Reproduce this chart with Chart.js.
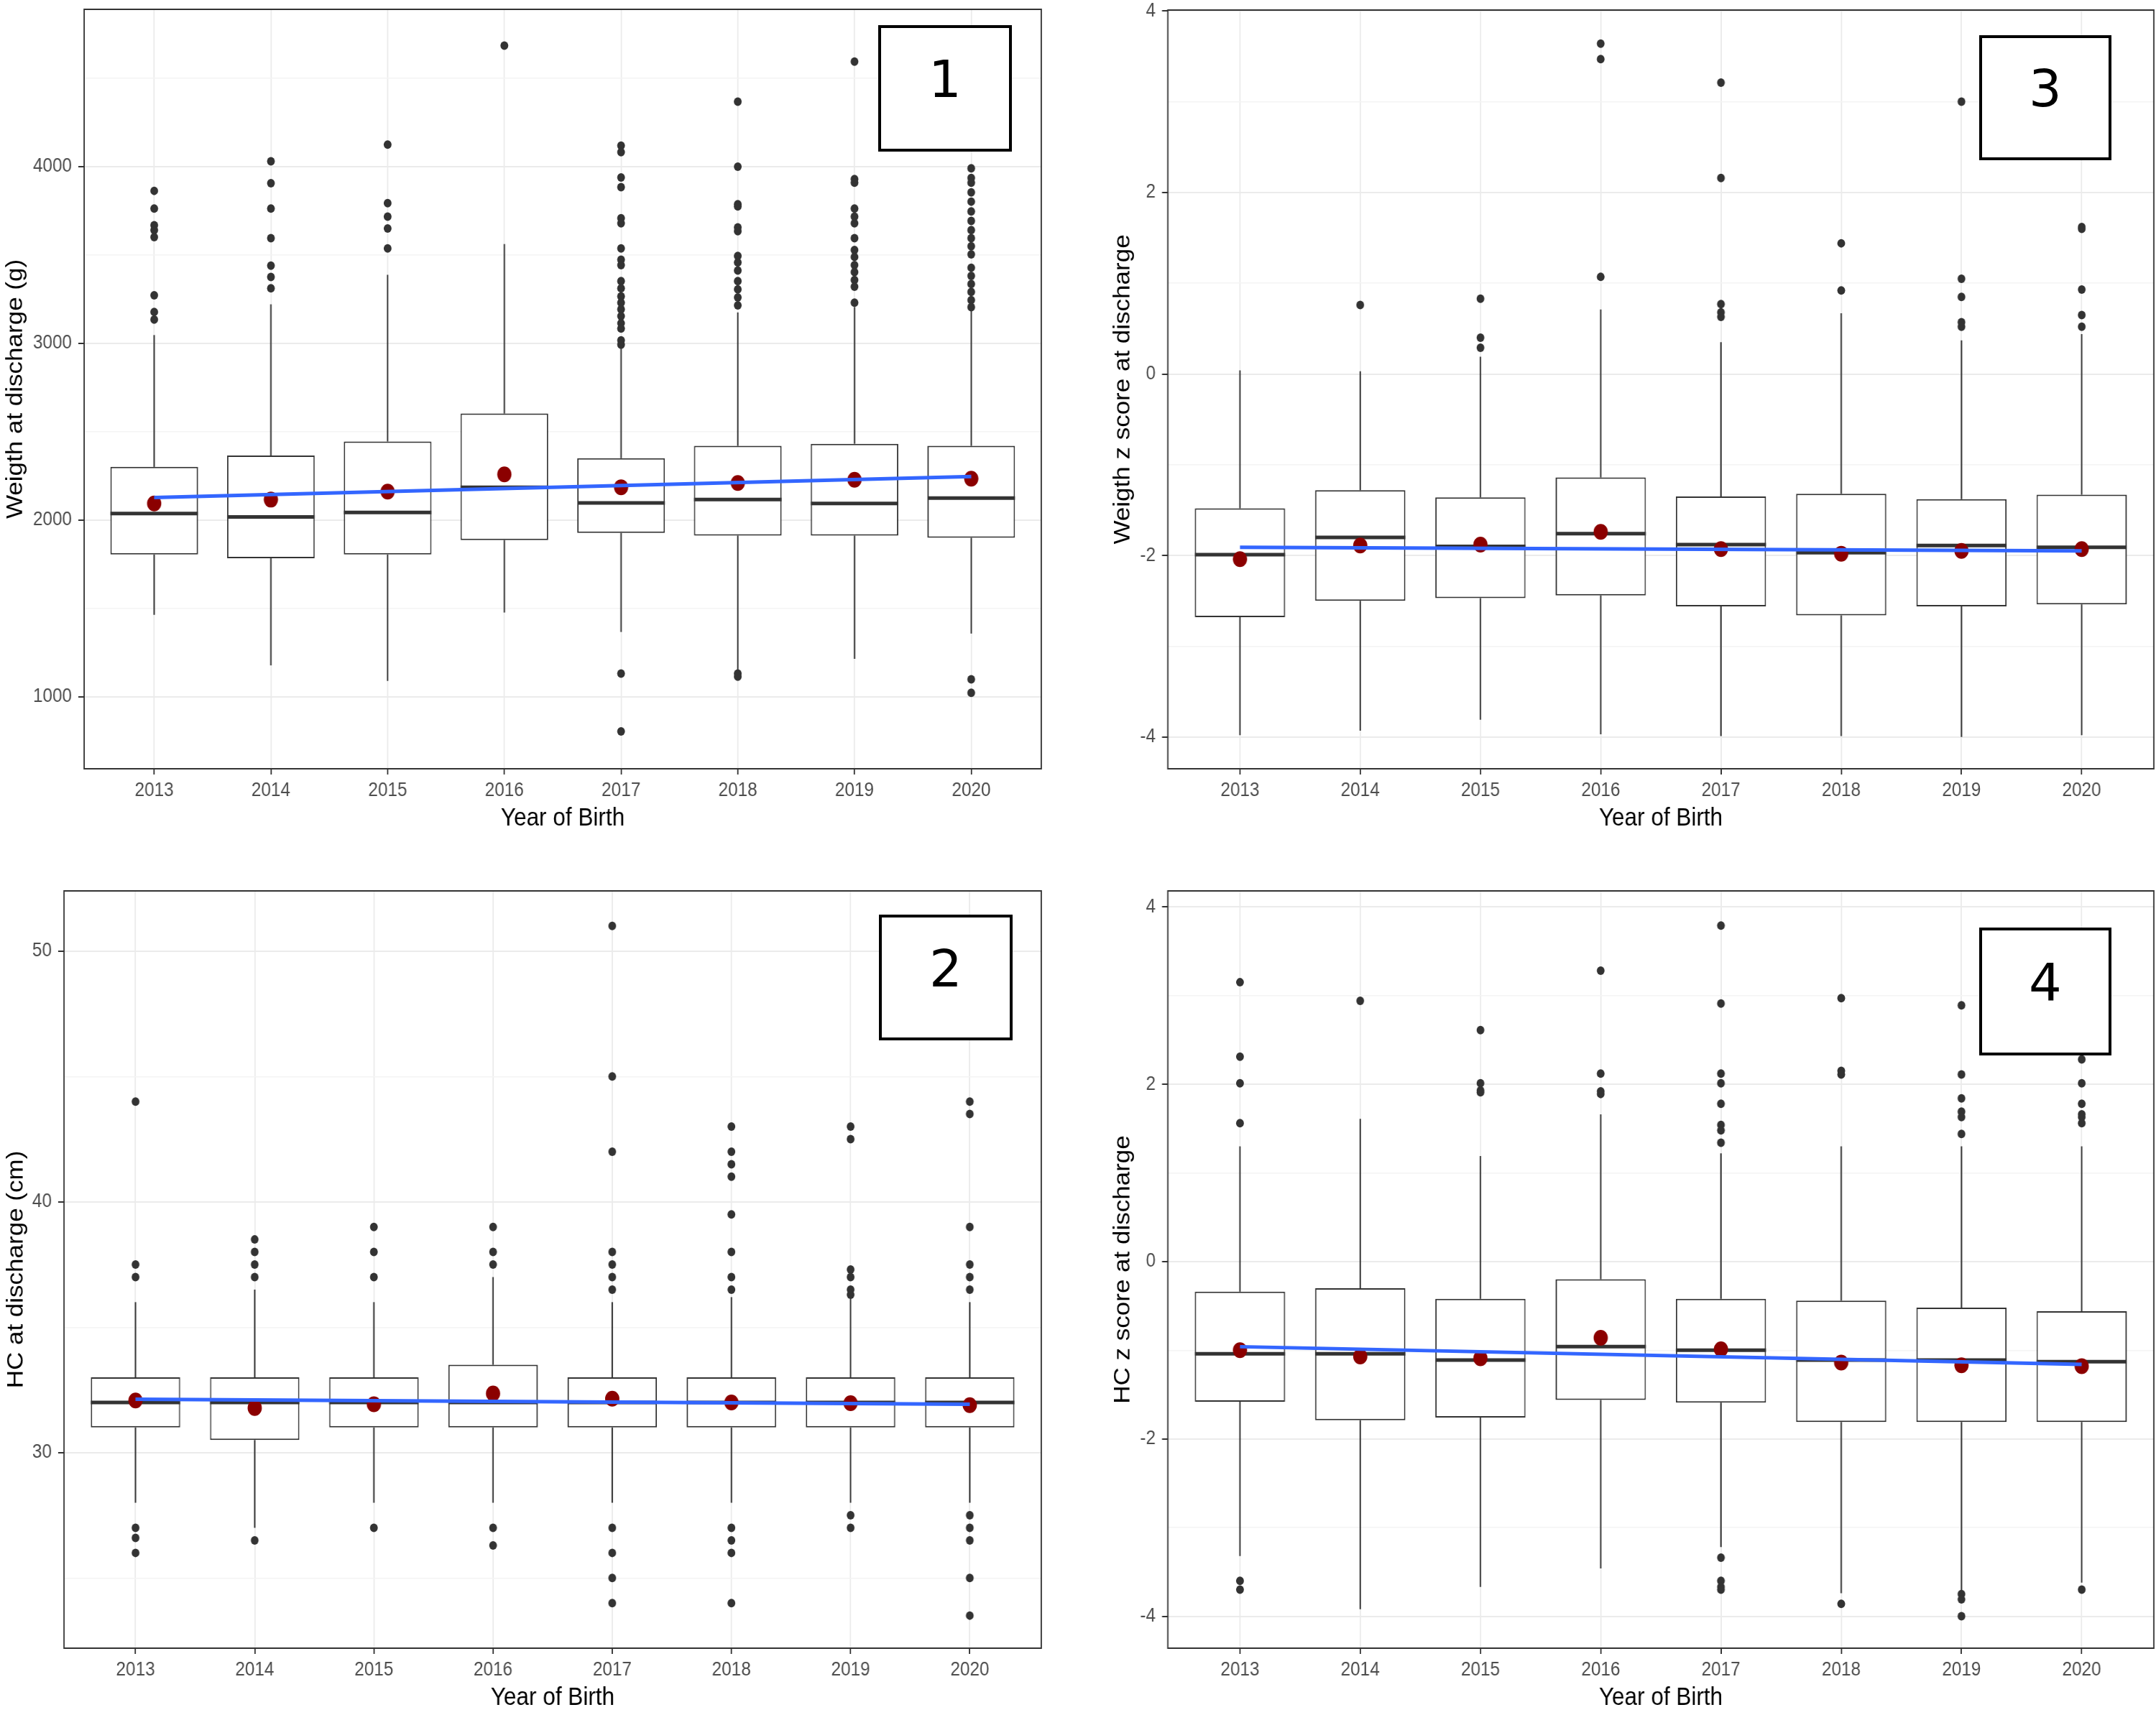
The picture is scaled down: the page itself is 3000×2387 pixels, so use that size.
<!DOCTYPE html>
<html lang="en">
<head>
<meta charset="utf-8"/>
<title>Weight and HC at discharge by year of birth</title>
<script src="https://cdn.jsdelivr.net/npm/chart.js"></script>
<style>
body{margin:0;background:#fff;width:3000px;height:2387px;overflow:hidden;position:relative}
.panel{position:absolute;transform:scaleX(.9);transform-origin:0 0}
.tag{position:absolute;box-sizing:border-box;border:4px solid #000;background:#fff;display:flex;align-items:center;justify-content:center;font-family:'DejaVu Sans',sans-serif;font-size:72px;line-height:1;padding-bottom:26px;color:#000;z-index:2}
</style>
</head>
<body>
<div class="panel" style="left:0;top:0;width:1666.7px;height:1200px"><canvas id="weightChart"></canvas></div>
<div class="panel" style="left:0;top:1200px;width:1666.7px;height:1187px"><canvas id="hcChart"></canvas></div>
<div class="panel" style="left:1540px;top:0;width:1622.2px;height:1200px"><canvas id="weightZChart"></canvas></div>
<div class="panel" style="left:1540px;top:1200px;width:1622.2px;height:1187px"><canvas id="hcZChart"></canvas></div>

<div class="tag" style="left:1222px;top:35px;width:186px;height:176px">1</div>
<div class="tag" style="left:1223px;top:1273px;width:186px;height:175px">2</div>
<div class="tag" style="left:2754px;top:49px;width:184px;height:174px">3</div>
<div class="tag" style="left:2754px;top:1291px;width:184px;height:178px">4</div>

<script>
const years=[2013,2014,2015,2016,2017,2018,2019,2020];

// 1: weight at discharge (g)
const weightLow=[1464,1178,1090,1477,1367,1150,1215,1358];
const weightQ1=[1805,1784,1805,1887,1927,1912,1912,1900];
const weightMed=[2037,2018,2043,2186,2097,2116,2094,2125];
const weightQ3=[2301,2365,2445,2603,2350,2420,2432,2420];
const weightHigh=[3047,3221,3388,3562,2971,3175,3206,3193];
const weightMean=[2094,2116,2161,2259,2186,2210,2228,2234];
const weightOut=[
  [3863,3763,3668,3641,3601,3272,3178,3135],
  [4030,3906,3763,3595,3440,3376,3312],
  [4125,3793,3717,3650,3537],
  [4685],
  [4119,4082,3939,3884,3708,3680,3537,3473,3443,3352,3312,3266,3230,3193,3154,3114,3084,3017,2993,1132,804],
  [4368,4000,3787,3775,3656,3635,3495,3458,3412,3352,3306,3260,3215,1132,1114],
  [4594,3930,3909,3763,3717,3680,3595,3528,3489,3443,3403,3358,3321,3230],
  [3991,3936,3909,3854,3802,3747,3693,3641,3595,3549,3504,3428,3382,3336,3291,3245,3205,1099,1023]
];
const weightTrend=[2128,2247];
const weightGrid=[1000,1500,2000,2500,3000,3500,4000,4500];
const weightTicks=[1000,2000,3000,4000];

// 2: HC at discharge (cm)
const hcLow=[28,27,28,28,28,28,28,28];
const hcQ1=[31,30.5,31,31,31,31,31,31];
const hcMed=[32,32,32,32,32,32,32,32];
const hcQ3=[33,33,33,33.5,33,33,33,33];
const hcHigh=[36,36.5,36,37,36,36.2,36.3,36];
const hcMean=[32.08,31.78,31.93,32.36,32.15,32.0,31.97,31.89];
const hcOut=[
  [44,37.5,37,27,26.6,26],
  [38.5,38,37.5,37,26.5],
  [39,38,37,27],
  [39,38,37.5,27,26.3],
  [51,45,42,38,37.5,37,36.5,27,26,25,24],
  [43,42,41.5,41,39.5,38,37,36.5,27,26.5,26,24],
  [43,42.5,37.3,37,36.5,36.3,27.5,27],
  [44,43.5,39,37.5,37,36.5,27.5,27,26.5,25,23.5]
];
const hcTrend=[32.13,31.93];
const hcGrid=[25,30,35,40,45,50];
const hcTicks=[30,40,50];

// 3: weight z score at discharge
const weightZLow=[-3.98,-3.93,-3.81,-3.97,-3.99,-3.99,-4.0,-3.98];
const weightZQ1=[-2.68,-2.50,-2.47,-2.44,-2.56,-2.66,-2.56,-2.54];
const weightZMed=[-1.99,-1.80,-1.90,-1.76,-1.88,-1.97,-1.89,-1.91];
const weightZQ3=[-1.48,-1.28,-1.36,-1.14,-1.35,-1.32,-1.38,-1.33];
const weightZHigh=[0.04,0.03,0.19,0.71,0.35,0.67,0.37,0.44];
const weightZMean=[-2.04,-1.89,-1.88,-1.74,-1.93,-1.98,-1.95,-1.93];
const weightZOut=[
  [],
  [0.76],
  [0.83,0.40,0.29],
  [3.64,3.47,1.07],
  [3.21,2.16,0.77,0.68,0.63],
  [1.44,0.92],
  [3.0,1.05,0.85,0.57,0.52],
  [1.62,1.60,0.93,0.65,0.52]
];
const weightZTrend=[-1.91,-1.95];
const zGrid=[-4,-3,-2,-1,0,1,2,3,4];
const zTicks=[-4,-2,0,2,4];

// 4: HC z score at discharge
const hcZLow=[-3.32,-3.92,-3.67,-3.46,-3.22,-3.74,-3.71,-3.62];
const hcZQ1=[-1.58,-1.79,-1.76,-1.56,-1.59,-1.81,-1.81,-1.81];
const hcZMed=[-1.04,-1.04,-1.11,-0.96,-1.0,-1.11,-1.11,-1.13];
const hcZQ3=[-0.34,-0.30,-0.42,-0.20,-0.42,-0.44,-0.52,-0.56];
const hcZHigh=[1.30,1.61,1.19,1.66,1.22,1.30,1.30,1.30];
const hcZMean=[-1.0,-1.07,-1.09,-0.86,-0.99,-1.14,-1.17,-1.18];
const hcZOut=[
  [3.15,2.31,2.01,1.56,-3.60,-3.70],
  [2.94],
  [2.61,2.01,1.93,1.91],
  [3.28,2.12,1.92,1.89],
  [3.79,2.91,2.12,2.01,1.78,1.54,1.48,1.34,-3.34,-3.60,-3.67,-3.70],
  [2.97,2.15,2.11,-3.86],
  [2.89,2.11,1.84,1.69,1.63,1.44,-3.75,-3.81,-4.0],
  [2.28,2.01,1.78,1.66,1.63,1.56,-3.70]
];
const hcZTrend=[-0.96,-1.16];

const FONT="'Liberation Sans', Arial, sans-serif";
const BOX_W=0.75;

const frame={id:'frame',afterDatasetsDraw(c){
  const a=c.chartArea,x=c.ctx;
  x.save();x.strokeStyle='#333';x.lineWidth=2;
  x.strokeRect(a.left,a.top,a.right-a.left,a.bottom-a.top);x.restore();
}};

function boxPlot(id,p){
  const pts=v=>years.map((x,i)=>({x,y:v[i]}));
  const range=(a,b)=>years.map((x,i)=>({x,y:[a[i],b[i]]}));
  const outs=[];years.forEach((x,i)=>p.out[i].forEach(y=>outs.push({x,y})));
  const halfBox=ctx=>{const s=ctx.chart.scales.x;return (s.getPixelForValue(years[1])-s.getPixelForValue(years[0]))*BOX_W/2;};
  const labeled=v=>p.ticks.includes(v);
  return new Chart(document.getElementById(id),{
    type:'bar',
    data:{datasets:[
      {type:'line',data:[{x:years[0],y:p.trend[0]},{x:years[years.length-1],y:p.trend[1]}],borderColor:'#3366FF',borderWidth:5,pointRadius:0,fill:false,order:0},
      {type:'line',data:pts(p.mean),showLine:false,pointRadius:11,pointBackgroundColor:'#8B0000',pointBorderWidth:0,order:1},
      {type:'line',data:outs,showLine:false,pointRadius:6,pointBackgroundColor:'#333',pointBorderWidth:0,order:2},
      {type:'line',data:pts(p.med),showLine:false,pointStyle:'line',pointRadius:halfBox,pointBorderColor:'#333',pointBorderWidth:5,order:3},
      {data:range(p.low,p.q1),backgroundColor:'#333',borderWidth:0,maxBarThickness:2.2,grouped:false,order:4},
      {data:range(p.q3,p.high),backgroundColor:'#333',borderWidth:0,maxBarThickness:2.2,grouped:false,order:4},
      {data:range(p.q1,p.q3),backgroundColor:'#fff',borderColor:'#333',borderWidth:2,borderSkipped:false,barPercentage:BOX_W,categoryPercentage:1,grouped:false,order:5}
    ]},
    options:{
      responsive:true,maintainAspectRatio:false,animation:false,
      layout:{padding:p.pad,autoPadding:false},
      plugins:{legend:{display:false},tooltip:{enabled:false}},
      scales:{
        x:{type:'linear',min:2012.4,max:2020.6,offset:false,
          afterBuildTicks:a=>{a.ticks=years.map(v=>({value:v}));},
          afterFit:a=>{a.height=p.xh;},
          grid:{offset:false,color:'#EBEBEB',lineWidth:2,tickColor:'#333',tickWidth:2,tickLength:8},
          border:{display:false},
          ticks:{color:'#4D4D4D',font:{family:FONT,size:27},padding:6,maxRotation:0,autoSkip:false,callback:v=>String(v)},
          title:{display:true,text:'Year of Birth',color:'#000',font:{family:FONT,size:35},padding:{top:0,bottom:p.xt}}},
        y:{type:'linear',min:p.min,max:p.max,
          afterBuildTicks:a=>{a.ticks=p.grid.map(v=>({value:v}));},
          afterFit:a=>{a.width=p.yw;a.paddingTop=0;a.paddingBottom=0;},
          grid:{color:c=>labeled(c.tick.value)?'#EBEBEB':'#F4F4F4',lineWidth:c=>labeled(c.tick.value)?2:1.5,
                tickColor:c=>labeled(c.tick.value)?'#333':'rgba(0,0,0,0)',tickWidth:2,tickLength:9},
          border:{display:false},
          ticks:{color:'#4D4D4D',font:{family:FONT,size:27},padding:10,autoSkip:false,callback:v=>labeled(v)?String(v):''},
          title:{display:true,text:p.title,color:'#000',font:{family:FONT,size:35},padding:{top:p.yt,bottom:0}}}
      }
    },
    plugins:[frame]
  });
}

boxPlot('weightChart',{low:weightLow,q1:weightQ1,med:weightMed,q3:weightQ3,high:weightHigh,mean:weightMean,out:weightOut,trend:weightTrend,
  grid:weightGrid,ticks:weightTicks,min:593,max:4890,title:'Weigth at discharge (g)',
  pad:{left:0,top:13,right:57.8,bottom:0},yw:130,xh:130,xt:40,yt:3.4});
boxPlot('hcChart',{low:hcLow,q1:hcQ1,med:hcMed,q3:hcQ3,high:hcHigh,mean:hcMean,out:hcOut,trend:hcTrend,
  grid:hcGrid,ticks:hcTicks,min:22.2,max:52.4,title:'HC at discharge (cm)',
  pad:{left:0,top:40,right:57.8,bottom:0},yw:98.9,xh:93,xt:3,yt:4.6});
boxPlot('weightZChart',{low:weightZLow,q1:weightZQ1,med:weightZMed,q3:weightZQ3,high:weightZHigh,mean:weightZMean,out:weightZOut,trend:weightZTrend,
  grid:zGrid,ticks:zTicks,min:-4.35,max:4.01,title:'Weigth z score at discharge',
  pad:{left:0,top:14,right:3.3,bottom:0},yw:94.4,xh:130,xt:40,yt:4.6});
boxPlot('hcZChart',{low:hcZLow,q1:hcZQ1,med:hcZMed,q3:hcZQ3,high:hcZHigh,mean:hcZMean,out:hcZOut,trend:hcZTrend,
  grid:zGrid,ticks:zTicks,min:-4.36,max:4.18,title:'HC z score at discharge',
  pad:{left:0,top:40,right:3.3,bottom:0},yw:94.4,xh:93,xt:3,yt:4.6});
</script>
</body>
</html>
